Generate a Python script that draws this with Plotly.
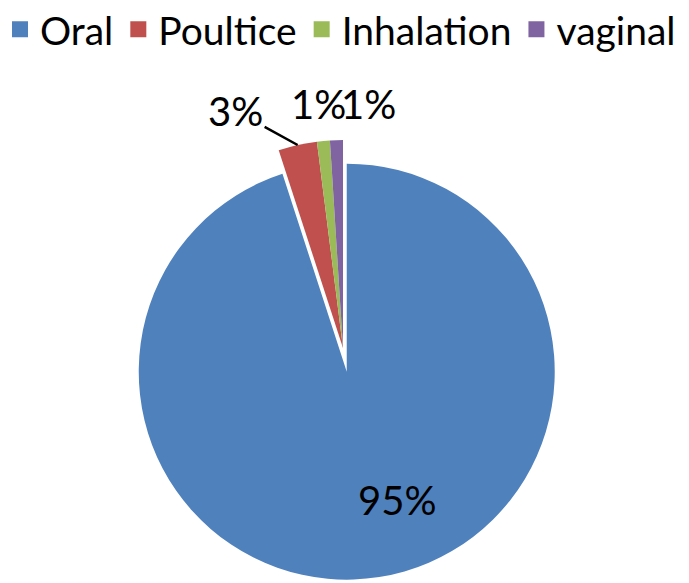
import math
import plotly.graph_objects as go

# route of administration share (%)
labels = ["Oral", "Poultice", "Inhalation", "vaginal"]
values = [95, 3, 1, 1]
colors = ["#4F81BD", "#C0504D", "#9BBB59", "#8064A2"]

W, H = 689, 583
pull = [0.115, 0, 0, 0]
dom_x = [0.1496, 0.8228]
dom_y = [0.0190, 0.8146]
# label placement: (fraction of radius along mid angle, dx px, dy px, leader line?)
label_pos = [(0.6, 31, 5, False), (1.0, -62, -34, True),
             (1.0, -5, -37, False), (1.0, 32, -36, False)]
FONT = "Lato"

fig = go.Figure()
fig.add_trace(go.Pie(
    labels=labels, values=values, sort=False, direction="clockwise", rotation=0,
    pull=pull, marker=dict(colors=colors, line=dict(width=0)),
    textinfo="none", domain=dict(x=dom_x, y=dom_y), showlegend=False,
    hoverinfo="label+percent",
))

# percent labels, anchored on each slice's geometry
total = sum(values)
cx = W * sum(dom_x) / 2
cy = H * (2 - sum(dom_y)) / 2
r = min(W * (dom_x[1] - dom_x[0]), H * (dom_y[1] - dom_y[0])) / (2 + 2 * max(pull))
cum = 0
for v, p, (rf, dx, dy, arrow) in zip(values, pull, label_pos):
    mid = 2 * math.pi * (cum + v / 2) / total
    cum += v
    sx, sy = math.sin(mid), -math.cos(mid)
    px = cx + r * (p + rf) * sx
    py = cy + r * (p + rf) * sy
    ann = dict(x=px / W, y=1 - py / H, xref="paper", yref="paper",
               xanchor="center", yanchor="middle",
               text=f"{v / total:.0%}", font=dict(family=FONT, size=40, color="black"))
    if arrow:
        ann.update(showarrow=True, ax=dx, ay=dy, arrowhead=0, arrowwidth=2.5,
                   arrowcolor="black", standoff=0, startstandoff=0)
    else:
        ann.update(showarrow=False, xshift=dx, yshift=-dy)
    fig.add_annotation(**ann)

# legend entries with bigger square swatches than the pie legend gives
for lab, col in zip(labels, colors):
    fig.add_trace(go.Scatter(x=[None], y=[None], mode="markers", name=lab,
        marker=dict(symbol="square", size=16, color=col)))

fig.update_layout(
    width=W, height=H, margin=dict(l=0, r=0, t=0, b=0, autoexpand=False),
    paper_bgcolor="white", plot_bgcolor="white",
    font=dict(family=FONT, size=40, color="black"),
    xaxis=dict(visible=False), yaxis=dict(visible=False),
    legend=dict(orientation="h", x=-0.0116, xanchor="left", y=1.018, yanchor="top",
                font=dict(family=FONT, size=39, color="black"),
                itemwidth=30, itemsizing="trace", bgcolor="rgba(0,0,0,0)"),
)
fig.write_html("out.html")
